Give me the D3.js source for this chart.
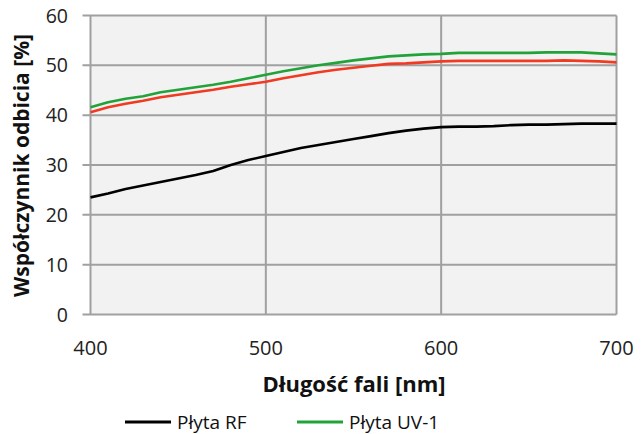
<!DOCTYPE html>
<html><head><meta charset="utf-8">
<script src="https://cdn.jsdelivr.net/npm/d3@7"></script>
<style>body{margin:0;background:#fff;} svg{display:block;}</style>
</head><body>
<svg id="c" width="644" height="434"></svg>
<script>
const wavelengths = [400,410,420,430,440,450,460,470,480,490,500,510,520,530,540,550,560,570,580,590,600,610,620,630,640,650,660,670,680,690,700];
const plytaRF   = [23.5,24.3,25.2,25.9,26.6,27.3,28.0,28.8,30.0,31.0,31.8,32.6,33.4,34.0,34.6,35.2,35.8,36.4,36.9,37.3,37.6,37.7,37.7,37.8,38.0,38.1,38.1,38.2,38.3,38.3,38.3];
const plytaUV1  = [41.6,42.6,43.3,43.8,44.6,45.1,45.6,46.1,46.7,47.4,48.1,48.8,49.4,50.0,50.5,51.0,51.4,51.8,52.0,52.2,52.3,52.5,52.5,52.5,52.5,52.5,52.6,52.6,52.6,52.4,52.2];
const plytaRed  = [40.6,41.6,42.3,42.9,43.6,44.1,44.6,45.1,45.7,46.2,46.7,47.4,48.0,48.6,49.1,49.5,49.9,50.3,50.4,50.6,50.8,50.9,50.9,50.9,50.9,50.9,50.9,51.0,50.9,50.8,50.6];
const xTicks = [400,500,600,700];
const yTicks = [0,10,20,30,40,50,60];
const seriesNames = ["Płyta RF","Płyta UV-1"];

const svg = d3.select("#c");
const m = {left:90.5, right:616.5, top:15.5, bottom:314.5};
const x = d3.scaleLinear().domain([400,700]).range([m.left,m.right]);
const y = d3.scaleLinear().domain([0,60]).range([m.bottom,m.top]);
const font = "'Open Sans', 'Noto Sans', sans-serif";
const grid = "#a0a0a0";

svg.append("rect").attr("x",m.left).attr("y",m.top).attr("width",m.right-m.left).attr("height",m.bottom-m.top).attr("fill","#f2f2f2");

// grid
svg.append("g").selectAll("line").data(yTicks).join("line")
  .attr("x1",m.left-8).attr("x2",m.right).attr("y1",d=>y(d)).attr("y2",d=>y(d))
  .attr("stroke",grid).attr("stroke-width",2);
svg.append("g").selectAll("line").data(xTicks).join("line")
  .attr("x1",d=>x(d)).attr("x2",d=>x(d)).attr("y1",m.top).attr("y2",m.bottom)
  .attr("stroke",grid).attr("stroke-width",2);

// tick labels
svg.append("g").selectAll("text").data(yTicks).join("text")
  .attr("x",68).attr("y",d=>y(d)).attr("dy","0.36em").attr("text-anchor","end")
  .attr("font-family",font).attr("font-size",19.5).attr("fill","#222").text(d=>d);
svg.append("g").selectAll("text").data(xTicks).join("text")
  .attr("x",d=>x(d)).attr("y",355).attr("text-anchor","middle")
  .attr("font-family",font).attr("font-size",20).attr("fill","#222").text(d=>d);

// axis titles
svg.append("text").attr("x",354).attr("y",392).attr("text-anchor","middle")
  .attr("font-family",font).attr("font-weight","bold").attr("font-size",22).attr("fill","#111")
  .text("Długość fali [nm]");
svg.append("text").attr("transform","translate(29,165.5) rotate(-90)").attr("text-anchor","middle")
  .attr("font-family",font).attr("font-weight","bold").attr("font-size",21).attr("fill","#111")
  .text("Współczynnik odbicia [%]");

// lines
const line = vals => d3.line().x((d,i)=>x(wavelengths[i])).y(d=>y(d))(vals);
const series = [[plytaRF,"#000000"],[plytaRed,"#f03a22"],[plytaUV1,"#22a33a"]];
series.forEach(([v,c])=>{
  svg.append("path").attr("d",line(v)).attr("fill","none").attr("stroke",c).attr("stroke-width",2.6).attr("stroke-linejoin","round");
});

// legend
const leg = [{name:seriesNames[0],color:"#000000",x:125},{name:seriesNames[1],color:"#22a33a",x:297}];
leg.forEach(l=>{
  svg.append("line").attr("x1",l.x).attr("x2",l.x+46).attr("y1",422).attr("y2",422).attr("stroke",l.color).attr("stroke-width",3);
  svg.append("text").attr("x",l.x+52).attr("y",429).attr("font-family",font).attr("font-size",19).attr("fill","#111").text(l.name);
});
</script>
</body></html>
